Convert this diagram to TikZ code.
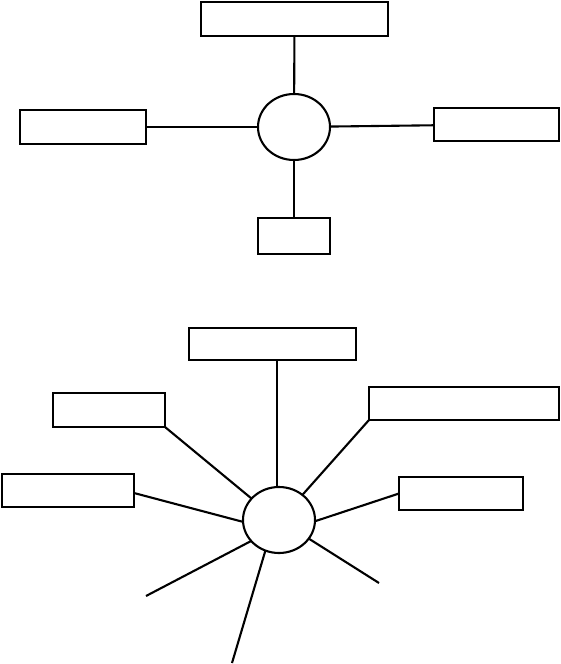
\documentclass[tikz,border=0pt]{standalone}
\usepackage{tikz}
\usetikzlibrary{shapes.geometric,positioning,calc}

\begin{document}
\begin{tikzpicture}[x=1pt,y=-1pt,line width=2.1pt,
    blankbox/.style={draw,rectangle,inner sep=0pt,outer sep=0pt},
    hub/.style={draw,ellipse,inner sep=0pt,outer sep=0pt,minimum width=72pt,minimum height=66pt}]
    \useasboundingbox (0,0) rectangle (561,664);

    % upper star
    \node[hub] (hubA) at (294,127) {};
    \node[blankbox,minimum width=187pt,minimum height=34pt] (topA) at (294.5,19) {};
    \node[blankbox,minimum width=126pt,minimum height=34pt] (leftA) at (83,127) {};
    \node[blankbox,minimum width=125pt,minimum height=33pt] (rightA) at (496.5,124.5) {};
    \node[blankbox,minimum width=72pt,minimum height=36pt] (botA) at (294,236) {};
    \draw (topA) -- (hubA);
    \draw (leftA) -- (hubA);
    \draw (hubA) -- (rightA);
    \draw (hubA) -- (botA);

    % lower star
    \node[hub] (hubB) at (279,520) {};
    \node[blankbox,minimum width=167pt,minimum height=32pt] (topB) at (272.5,344) {};
    \node[blankbox,minimum width=112pt,minimum height=34pt] (upleftB) at (109,410) {};
    \node[blankbox,minimum width=190pt,minimum height=33pt] (uprightB) at (464,403.5) {};
    \node[blankbox,minimum width=132pt,minimum height=33pt] (leftB) at (68,490.5) {};
    \node[blankbox,minimum width=124pt,minimum height=33pt] (rightB) at (461,493.5) {};
    \coordinate (endL) at (146,596);
    \coordinate (endD) at (232,663);
    \coordinate (endR) at (379,583);
    \draw (hubB.93) -- (hubB.93 |- topB.south);
    \draw (upleftB.south east) -- (hubB.142);
    \draw (uprightB.south west) -- (hubB.47);
    \draw ($(leftB.east)+(0,2.5)$) -- (hubB.183);
    \draw (rightB.west) -- (hubB.358);
    \draw (hubB.217) -- (endL);
    \draw (hubB.246) -- (endD);
    \draw (hubB.328) -- (endR);
\end{tikzpicture}
\end{document}
